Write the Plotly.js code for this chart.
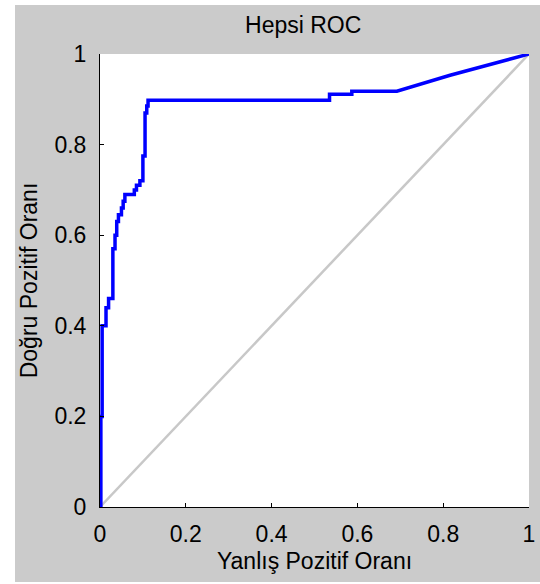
<!DOCTYPE html>
<html>
<head>
<meta charset="utf-8">
<script src="https://cdn.plot.ly/plotly-3.0.1.min.js"></script>
<style>
html,body{margin:0;padding:0;background:#ffffff;width:540px;height:584px;overflow:hidden;}
#chart{position:absolute;left:15px;top:5px;width:525px;height:577px;}
</style>
</head>
<body>
<div id="chart"></div>
<script>
// ROC curve values
const fpr = [0, 0.002, 0.002, 0.005, 0.005, 0.014, 0.014, 0.02, 0.02, 0.03, 0.03, 0.035, 0.035, 0.039, 0.039, 0.043, 0.043, 0.05, 0.05, 0.054, 0.054, 0.058, 0.058, 0.08, 0.08, 0.085, 0.085, 0.093, 0.093, 0.1, 0.1, 0.105, 0.105, 0.109, 0.109, 0.112, 0.112, 0.535, 0.535, 0.587, 0.587, 0.692, 0.816, 1];
const tpr = [0, 0, 0.2, 0.2, 0.4, 0.4, 0.44, 0.44, 0.46, 0.46, 0.57, 0.57, 0.6, 0.6, 0.63, 0.63, 0.645, 0.645, 0.66, 0.66, 0.675, 0.675, 0.69, 0.69, 0.7, 0.7, 0.71, 0.71, 0.72, 0.72, 0.775, 0.775, 0.87, 0.87, 0.885, 0.885, 0.898, 0.898, 0.911, 0.911, 0.918, 0.918, 0.953, 1];
// chance diagonal
const diagX = [0, 1];
const diagY = [0, 1];
// ticks
const tickVals = [0, 0.2, 0.4, 0.6, 0.8, 1];
const tickText = ['0', '0.2', '0.4', '0.6', '0.8', '1'];

const chartTitle = 'Hepsi ROC';
const xTitle = 'Yanlış Pozitif Oranı';
const yTitle = 'Doğru Pozitif Oranı';

const FONT = '"Liberation Sans", Arial, sans-serif';

const traces = [
  {x: diagX, y: diagY, type: 'scatter', mode: 'lines', line: {color: '#c8c8c8', width: 2.5}, hoverinfo: 'skip'},
  {x: fpr, y: tpr, type: 'scatter', mode: 'lines', line: {color: '#0000ff', width: 3.5}}
];

const axisCommon = {
  range: [0, 1],
  tickvals: tickVals,
  ticktext: tickText,
  showgrid: false,
  zeroline: false,
  showline: true,
  linecolor: '#000000',
  linewidth: 1,
  mirror: false,
  ticks: 'inside',
  ticklen: 4,
  tickcolor: '#000000',
  tickfont: {family: FONT, size: 23, color: '#000000'},
  fixedrange: true
};

const layout = {
  width: 525,
  height: 577,
  paper_bgcolor: '#cbcbcb',
  plot_bgcolor: '#ffffff',
  showlegend: false,
  margin: {l: 85, r: 11, t: 49, b: 75, pad: 0},
  title: {text: chartTitle, x: 0.549, xanchor: 'center', y: 0.965, yanchor: 'middle', font: {family: FONT, size: 23, color: '#000000'}},
  xaxis: Object.assign({}, axisCommon, {
    title: {text: xTitle, font: {family: FONT, size: 23, color: '#000000'}, standoff: 7},
    ticklabelstandoff: 6
  }),
  yaxis: Object.assign({}, axisCommon, {
    title: {text: yTitle, font: {family: FONT, size: 23, color: '#000000'}, standoff: 10},
    ticklabelstandoff: 8
  })
};

Plotly.newPlot('chart', traces, layout, {displayModeBar: false, staticPlot: true});
</script>
</body>
</html>
